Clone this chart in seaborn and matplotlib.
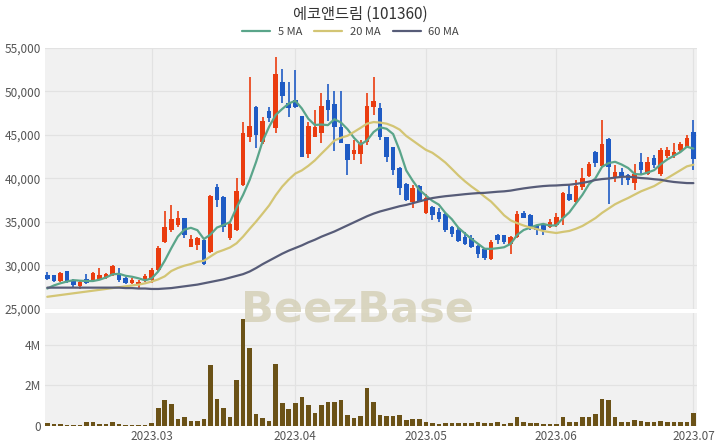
import numpy as np
import pandas as pd
import matplotlib
matplotlib.use("Agg")
import matplotlib.pyplot as plt
from matplotlib.ticker import FuncFormatter
import seaborn as sns

# %%
title = "에코앤드림 (101360)"

# daily candles, 2023-02-07 .. 2023-07-03 (KRX trading days)
open_ = [28850, 28850, 28200, 29350, 28300, 27600, 28400, 28300, 28400, 28650,
         28850, 29000, 28600, 28000, 27850, 28300, 28300, 29450, 32700, 34050,
         34600, 35400, 32150, 32300, 32900, 31550, 39050, 37900, 33100, 34050,
         39200, 44750, 48150, 44200, 47750, 45750, 51050, 48600, 48950, 47150,
         42850, 44800, 45150, 48950, 48500, 45950, 43950, 42850, 42850, 44200,
         48150, 48050, 44700, 43550, 41150, 39400, 37300, 39100, 36050, 36700,
         36150, 35950, 34450, 34100, 33300, 33100, 32200, 31850, 30700, 33450,
         33450, 32450, 33300, 36050, 35750, 34600, 34600, 34450, 34600, 35400,
         38200, 37300, 38950, 40250, 43050, 41400, 44500, 40150, 40750, 40350,
         39500, 41900, 40500, 42300, 40500, 42550, 42550, 43300, 43600, 45350]
high = [29250, 28950, 29250, 29400, 28400, 28300, 29000, 29250, 29750, 29100,
        30000, 29650, 28700, 28600, 28300, 29000, 29650, 32200, 36250, 36900,
        36250, 35500, 33450, 33300, 33000, 38100, 39400, 38000, 34850, 40000,
        46500, 51650, 48300, 47050, 48200, 53900, 52550, 51100, 52400, 47200,
        46500, 47850, 49800, 50850, 50000, 50050, 44000, 44400, 44450, 49850,
        51600, 48600, 44750, 43600, 41300, 39450, 39200, 39200, 38250, 36800,
        36550, 36000, 34500, 34450, 33850, 33450, 32300, 31900, 32900, 33650,
        33500, 33350, 36250, 36250, 35950, 34700, 34650, 35300, 36000, 38450,
        39200, 39800, 41150, 41900, 43100, 46700, 44600, 41500, 41150, 40550,
        41650, 42950, 42450, 42650, 43450, 43600, 44100, 44200, 45000, 46700]
low = [28300, 28100, 28150, 28000, 27500, 27350, 27900, 28200, 28300, 28500,
       28800, 28100, 27900, 27850, 27350, 28100, 28000, 29250, 32600, 33850,
       34450, 33100, 32100, 31750, 30000, 31400, 36700, 33850, 32900, 33900,
       39100, 44200, 43450, 44000, 46500, 45150, 48700, 47050, 48050, 42450,
       42300, 44750, 44100, 46600, 43150, 44050, 40350, 42100, 41700, 43800,
       47250, 44400, 41900, 40350, 38050, 37450, 36550, 37250, 35950, 35200,
       35000, 33850, 33300, 32700, 32300, 31950, 30800, 30600, 30650, 32500,
       32500, 31350, 33100, 35400, 34050, 33450, 33450, 34250, 34450, 34600,
       37400, 37100, 38650, 40150, 41300, 41300, 37050, 39600, 39200, 39200,
       38650, 40550, 40350, 41150, 40250, 42300, 42300, 43050, 43550, 40950]
close = [28400, 28200, 29150, 28100, 27700, 28100, 28000, 29150, 28850, 29000,
         29900, 28300, 28000, 28300, 28100, 28750, 29450, 31950, 34450, 35300,
         35400, 33450, 33000, 33100, 30200, 37950, 37500, 34450, 34750, 38550,
         45250, 46000, 44950, 46600, 46900, 51950, 49450, 48050, 48200, 42500,
         46000, 45900, 48300, 47850, 45900, 44100, 42100, 43300, 44000, 48300,
         48900, 44800, 42450, 40950, 38850, 37500, 38850, 37300, 37700, 35750,
         35300, 34100, 33650, 32800, 32500, 32150, 31350, 30800, 32700, 32900,
         32700, 33300, 35950, 35500, 34250, 34100, 34050, 35000, 35600, 38350,
         37500, 39100, 40000, 41700, 41800, 44000, 41250, 40750, 40150, 39800,
         40550, 40950, 41900, 41500, 43250, 43250, 43050, 44000, 44600, 42200]
volume = [130000, 80000, 100000, 70000, 30000, 30000, 180000, 180000, 110000, 100000,
          200000, 110000, 50000, 30000, 30000, 70000, 160000, 870000, 1280000, 1070000,
          340000, 460000, 230000, 230000, 330000, 2980000, 1330000, 870000, 440000, 2260000,
          5250000, 3850000, 590000, 410000, 260000, 3050000, 1150000, 850000, 1150000, 1440000,
          1020000, 660000, 1030000, 1200000, 1160000, 1280000, 540000, 390000, 510000, 1890000,
          1160000, 540000, 510000, 480000, 520000, 300000, 360000, 340000, 210000, 130000,
          100000, 130000, 130000, 130000, 160000, 130000, 200000, 160000, 160000, 180000,
          100000, 130000, 430000, 200000, 160000, 160000, 80000, 100000, 80000, 460000,
          200000, 210000, 430000, 460000, 570000, 1330000, 1280000, 430000, 200000, 210000,
          300000, 230000, 200000, 200000, 260000, 200000, 200000, 200000, 200000, 620000]

# moving averages at the start of the window (need history before it)
ma5_head = [27350, 27700, 27950, 28150]
ma20_head = [26400, 26500, 26600, 26700, 26800, 26900, 27000, 27100, 27200, 27300,
             27400, 27500, 27600, 27700, 27800, 27950, 28150, 28400, 28750]
ma60_head = [27450] * 12 + [27400, 27400, 27350, 27350, 27300, 27300, 27350, 27400,
             27500, 27600, 27700, 27800, 27950, 28100, 28250, 28400, 28600, 28800,
             29000, 29300, 29700, 30150, 30550, 30950, 31350, 31700, 32000, 32300,
             32650, 32950, 33300, 33600, 33900, 34250, 34600, 34950, 35300, 35650,
             35950, 36200, 36400, 36600, 36800, 36950, 37150, 37350, 37550]

holidays = ["2023-03-01", "2023-05-01", "2023-05-05", "2023-05-29", "2023-06-06"]

# %%
dates = pd.bdate_range("2023-02-07", "2023-07-03")
dates = dates[~dates.isin(pd.to_datetime(holidays))]

df = pd.DataFrame({"date": dates, "open": open_, "high": high, "low": low,
                   "close": close, "volume": volume})
df["idx"] = np.arange(len(df))
df["ma5"] = df["close"].rolling(5).mean()
df["ma20"] = df["close"].rolling(20).mean()
df["ma60"] = df["close"].rolling(60).mean()
df.loc[:len(ma5_head) - 1, "ma5"] = ma5_head
df.loc[:len(ma20_head) - 1, "ma20"] = ma20_head
df.loc[:len(ma60_head) - 1, "ma60"] = ma60_head

red = "#ea3c0f"
blue = "#1f5bc4"
c5 = "#5aa58a"
c20 = "#d3c574"
c60 = "#575c78"
vol_color = "#6b5217"
bg = "#f1f1f1"
grid = "#e2e2e2"

# %%
sns.set_style("white")
plt.rcParams["font.family"] = ["Noto Sans CJK KR", "DejaVu Sans"]

fig = plt.figure(figsize=(7.2, 4.48), dpi=100)
ax = fig.add_axes([0.0625, 0.3103, 0.9055, 0.5832])
axv = fig.add_axes([0.0625, 0.0491, 0.9055, 0.2522], sharex=ax)

up = df["close"] >= df["open"]
colors = np.where(up, red, blue)
ax.vlines(df["idx"], df["low"], df["high"], color=colors, lw=1.2, zorder=3)
ax.bar(df["idx"], (df["close"] - df["open"]).abs().clip(lower=60),
       bottom=np.minimum(df["open"], df["close"]), width=0.7, color=colors,
       linewidth=0, zorder=3)

sns.lineplot(data=df, x="idx", y="ma5", ax=ax, color=c5, linewidth=1.6, zorder=4)
sns.lineplot(data=df, x="idx", y="ma20", ax=ax, color=c20, linewidth=1.6, zorder=4)
sns.lineplot(data=df, x="idx", y="ma60", ax=ax, color=c60, linewidth=1.6, zorder=4)

sns.barplot(data=df, x="idx", y="volume", ax=axv, color=vol_color, saturation=1,
            width=0.7, native_scale=True, linewidth=0, zorder=3)

ticks = df.groupby(df["date"].dt.to_period("M")).head(1)["idx"].values[1:]
tick_labels = [d.strftime("%Y.%m") for d in df.loc[ticks, "date"]]

for a in (ax, axv):
    a.set_facecolor(bg)
    for s in a.spines.values():
        s.set_visible(False)
    a.grid(True, color=grid, linewidth=0.9)
    a.set_axisbelow(True)
    a.set_xlabel("")
    a.set_ylabel("")
    a.tick_params(length=0, labelsize=8.5, labelcolor="#555555", pad=3)

ax.set_xlim(-0.35, 99.55)
ax.set_ylim(25000, 55000)
ax.set_yticks(range(25000, 55001, 5000))
ax.yaxis.set_major_formatter(FuncFormatter(lambda v, p: f"{int(v):,}"))
ax.tick_params(labelbottom=False)

axv.set_ylim(0, 5.55e6)
axv.set_yticks([0, 2e6, 4e6])
axv.set_yticklabels(["0", "2M", "4M"])
axv.set_xticks(ticks)
axv.set_xticklabels(tick_labels)

fig.text(0.5, 1 - 14 / 448, title, ha="center", va="center", fontsize=11, color="#333333")
handles = ax.get_lines()[:3]
fig.legend(handles, ["5 MA", "20 MA", "60 MA"], loc="center", bbox_to_anchor=(0.487, 1 - 32 / 448),
           ncol=3, frameon=False, fontsize=8, handlelength=2.5, handletextpad=0.7,
           columnspacing=1.1, labelcolor="#444444")

fig.text(0.497, 1 - 310 / 448, "BeezBase", ha="center", va="center", fontsize=31,
         fontweight="bold", color="#d5d0b8", alpha=0.85, family="DejaVu Sans", zorder=5)

fig.savefig("out.png", dpi=100)
